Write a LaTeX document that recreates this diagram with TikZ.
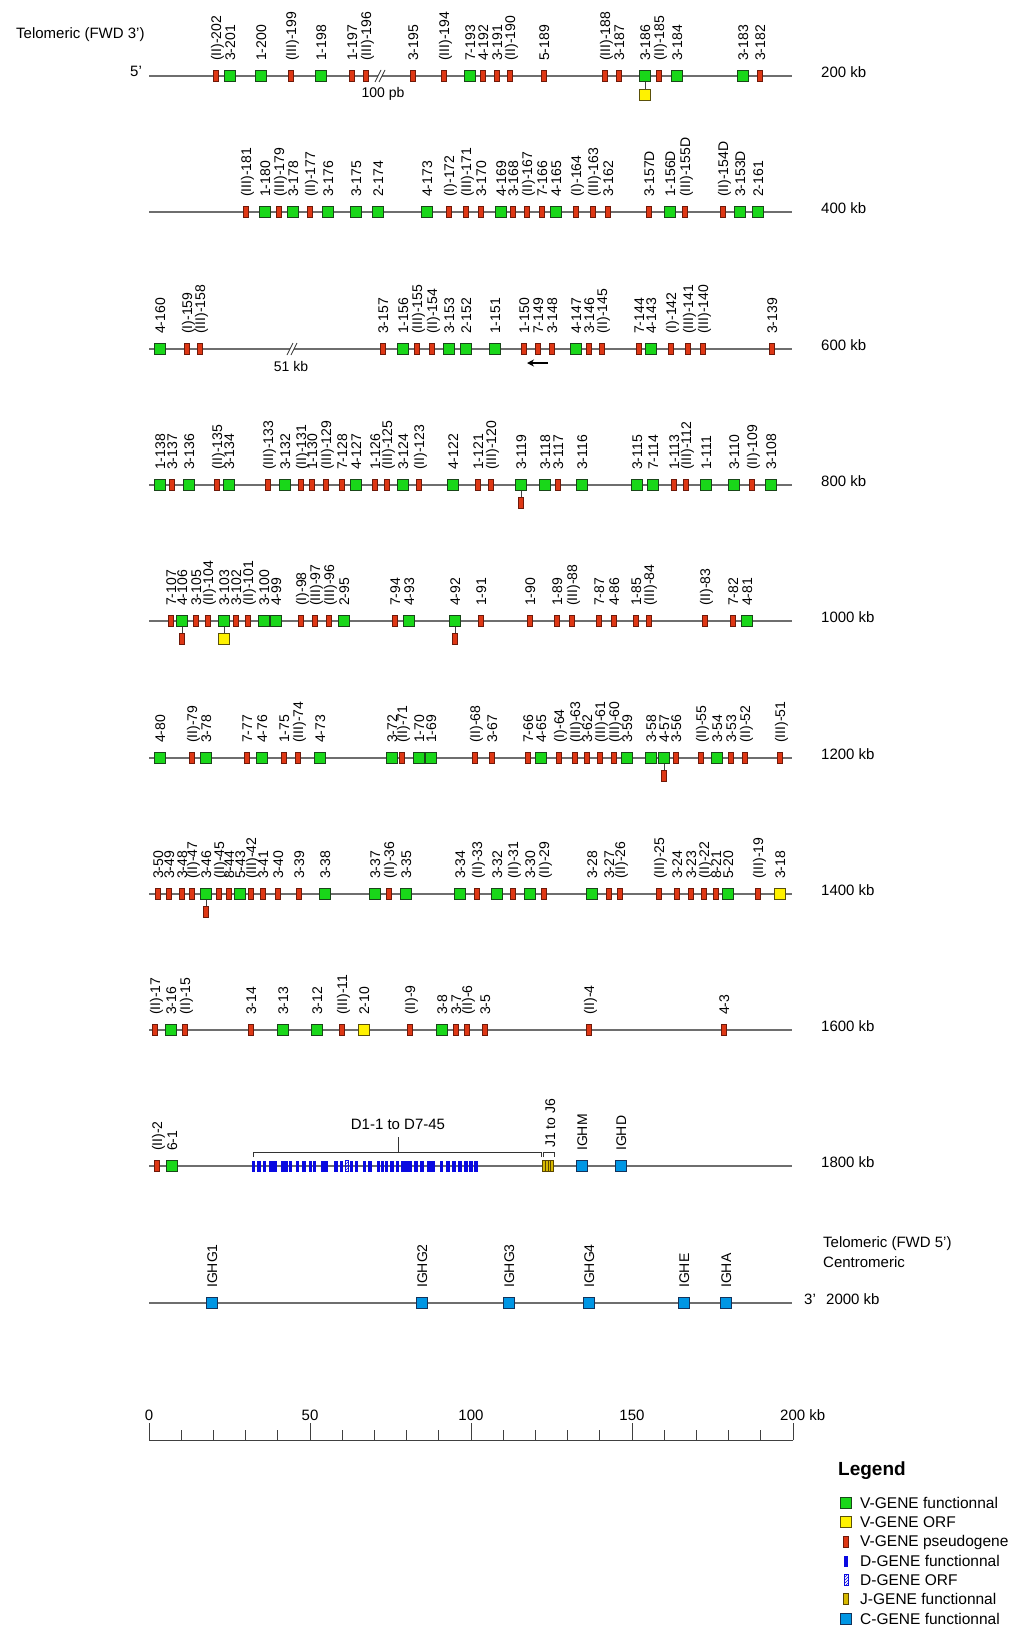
\documentclass[tikz,border=0pt]{standalone}
\usepackage{fontspec}
\setmainfont{Liberation Sans}
\usetikzlibrary{arrows.meta,patterns}
\definecolor{vgreen}{RGB}{25,215,25}
\definecolor{vgreenD}{RGB}{25,70,25}
\definecolor{vred}{RGB}{222,55,20}
\definecolor{vredD}{RGB}{110,25,10}
\definecolor{vyellow}{RGB}{255,242,0}
\definecolor{vyellowD}{RGB}{90,80,10}
\definecolor{dblue}{RGB}{10,10,225}
\definecolor{cblue}{RGB}{0,150,228}
\definecolor{cblueD}{RGB}{20,50,90}
\definecolor{jolive}{RGB}{215,185,0}
\definecolor{jstripeC}{RGB}{90,70,0}
\definecolor{linegray}{RGB}{110,110,110}
\newcommand\generow[3]{%
  \foreach \gx/\glab/\gt [count=\gi] in {#3}{%
    \node[genetype/.expanded=\gt] (r#1g\gi) at (\gx,#2) {};
    \node[glabel] (r#1t\gi) at (\gx,#2-15) {\glab};
  }}
\newcommand\brkmark[2]{%
  \fill[white] (#1-4,#2-3) rectangle (#1,#2+3);
  \draw[brkline] (#1-7,#2+6) -- (#1-1,#2-6);
  \draw[brkline] (#1-3,#2+6) -- (#1+3,#2-6);}
\begin{document}
\begin{tikzpicture}[x=1pt,y=-1pt,
  geneG/.style={draw=vgreenD,fill=vgreen,minimum width=11pt,minimum height=11pt,inner sep=0pt,line width=0.7pt},
  geneR/.style={draw=vredD,fill=vred,minimum width=5.5pt,minimum height=11pt,inner sep=0pt,line width=0.7pt},
  geneY/.style={draw=vyellowD,fill=vyellow,minimum width=11pt,minimum height=11pt,inner sep=0pt,line width=0.7pt},
  geneC/.style={draw=cblueD,fill=cblue,minimum width=11pt,minimum height=11pt,inner sep=0pt,line width=0.7pt},
  genetype/.style={gene#1},
  dgene/.style={fill=dblue,minimum width=3.6pt,minimum height=11pt,inner sep=0pt},
  dorf/.style={draw=dblue,line width=0.6pt,pattern=north east lines,pattern color=dblue,minimum width=3.6pt,minimum height=11pt,inner sep=0pt},
  jgene/.style={draw=jstripeC,fill=jolive,minimum width=5.5pt,minimum height=11pt,inner sep=0pt,line width=0.7pt},
  jstripe/.style={draw=jstripeC,line width=0.9pt},
  glabel/.style={rotate=90,anchor=west,inner sep=0pt,font=\fontsize{14}{14}\selectfont,text height=10pt,text depth=0pt},
  txt/.style={inner sep=0pt,font=\fontsize{15}{15}\selectfont},
  smalltxt/.style={inner sep=0pt,font=\fontsize{14}{14}\selectfont},
  legtxt/.style={inner sep=0pt,anchor=west,font=\fontsize{15.5}{15.5}\selectfont},
  backbone/.style={draw=linegray,line width=1.1pt},
  conn/.style={draw=black!75,line width=0.8pt},
  brkline/.style={draw=black!80,line width=0.8pt},
  bracket/.style={draw=black!80,line width=0.9pt},
  scaleline/.style={draw=black!75,line width=0.9pt}]
\useasboundingbox (0,0) rectangle (1025,1630);
\fill[white] (0,0) rectangle (1025,1630);

% backbones and kb labels
\foreach \r/\yy in {1/76,2/212,3/349,4/485,5/621,6/758,7/894,8/1030,9/1166,10/1303}{
  \coordinate (L\r-s) at (149,\yy);
  \coordinate (L\r-e) at (792,\yy);
  \draw[backbone] (L\r-s) -- (L\r-e);
}
\foreach \r/\yy/\kb in {1/76/200,2/212/400,3/349/600,4/485/800,5/621/1000,6/758/1200,7/894/1400,8/1030/1600,9/1166/1800}{
  \node[txt,anchor=west] (kb\r) at (821,\yy-4) {\kb\ kb};
}
\node[txt,anchor=west] (kb10) at (826,1299) {2000 kb};
\node[txt,anchor=west] (end3) at (804,1299) {3'};
\node[txt,anchor=west] (end5) at (130,71) {5'};
\node[txt,anchor=west] (telo3) at (16,35) {Telomeric (FWD 3')};
\node[txt,anchor=west] (telo5) at (823,1244) {Telomeric (FWD 5')};
\node[txt,anchor=west] (centro) at (823,1262) {Centromeric};

% breaks
\brkmark{382}{76}
\node[smalltxt] (pb100) at (383,94) {100 pb};
\brkmark{294}{349}
\node[smalltxt] (kb51) at (291,366) {51 kb};

% row 1
\generow{1}{76}{216/(II)-202/R,230/3-201/G,261/1-200/G,291/(III)-199/R,321/1-198/G,352/1-197/R,366/(III)-196/R,
413/3-195/R,444/(III)-194/R,470/7-193/G,483/4-192/R,497/3-191/R,510/(II)-190/R,544/5-189/R,605/(III)-188/R,
619/3-187/R,645/3-186/G,659/(II)-185/R,677/3-184/G,743/3-183/G,760/3-182/R}
\node[geneY] (s1) at (645,95) {};
\draw[conn] (r1g17.south) -- (s1.north);

% row 2
\generow{2}{212}{246/(III)-181/R,265/1-180/G,279/(III)-179/R,293/3-178/G,310/(II)-177/R,328/3-176/G,356/3-175/G,
378/2-174/G,427/4-173/G,449/(I)-172/R,466/(III)-171/R,481/3-170/R,501/4-169/G,513/3-168/R,527/(II)-167/R,
542/7-166/R,556/4-165/G,576/(I)-164/R,593/(III)-163/R,608/3-162/R,649/3-157D/R,670/1-156D/G,685/(III)-155D/R,
723/(II)-154D/R,740/3-153D/G,758/2-161/G}

% row 3
\generow{3}{349}{160/4-160/G,187/(I)-159/R,200/(III)-158/R,383/3-157/R,403/1-156/G,417/(III)-155/R,432/(II)-154/R,
449/3-153/G,466/2-152/G,495/1-151/G,524/1-150/R,538/7-149/R,552/3-148/R,576/4-147/G,589/3-146/R,602/(II)-145/R,
639/7-144/R,651/4-143/G,671/(I)-142/R,688/(III)-141/R,703/(III)-140/R,772/3-139/R}
\coordinate (arrS) at (548,363);
\coordinate (arrE) at (527,363);
\draw[-{Stealth[length=7pt,width=7pt]},line width=1.4pt] (arrS) -- (arrE);

% row 4
\generow{4}{485}{160/1-138/G,172/3-137/R,189/3-136/G,217/(II)-135/R,229/3-134/G,268/(III)-133/R,285/3-132/G,
301/(II)-131/R,312/1-130/R,326/(III)-129/R,342/7-128/R,356/4-127/G,375/1-126/R,387/(III)-125/R,403/3-124/G,
419/(II)-123/R,453/4-122/G,478/1-121/R,491/(III)-120/R,521/3-119/G,545/3-118/G,558/3-117/R,582/3-116/G,
637/3-115/G,653/7-114/G,674/1-113/R,686/(III)-112/R,706/1-111/G,734/3-110/G,752/(II)-109/R,771/3-108/G}
\node[geneR] (s4) at (521,503) {};
\draw[conn] (r4g20.south) -- (s4.north);

% row 5
\generow{5}{621}{171/7-107/R,182/4-106/G,196/3-105/R,208/(II)-104/R,224/3-103/G,236/3-102/R,248/(II)-101/R,
264/3-100/G,276/4-99/G,301/(I)-98/R,315/(III)-97/R,329/(III)-96/R,344/2-95/G,395/7-94/R,409/4-93/G,455/4-92/G,
481/1-91/R,530/1-90/R,557/1-89/R,572/(III)-88/R,599/7-87/R,614/4-86/R,636/1-85/R,649/(III)-84/R,705/(II)-83/R,
733/7-82/R,747/4-81/G}
\node[geneR] (s5a) at (182,639) {};
\draw[conn] (r5g2.south) -- (s5a.north);
\node[geneY] (s5b) at (224,639) {};
\draw[conn] (r5g5.south) -- (s5b.north);
\node[geneR] (s5c) at (455,639) {};
\draw[conn] (r5g16.south) -- (s5c.north);

% row 6
\generow{6}{758}{160/4-80/G,192/(II)-79/R,206/3-78/G,247/7-77/R,262/4-76/G,284/1-75/R,298/(III)-74/R,320/4-73/G,
392/3-72/G,402/(II)-71/R,419/1-70/G,431/1-69/G,475/(II)-68/R,492/3-67/R,528/7-66/R,541/4-65/G,559/(I)-64/R,
575/(III)-63/R,587/3-62/R,600/(III)-61/R,614/(III)-60/R,627/3-59/G,651/3-58/G,664/4-57/G,676/3-56/R,
701/(II)-55/R,717/3-54/G,731/3-53/R,745/(II)-52/R,780/(III)-51/R}
\node[geneR] (s6) at (664,776) {};
\draw[conn] (r6g24.south) -- (s6.north);

% row 7
\generow{7}{894}{158/3-50/R,169/3-49/R,182/3-48/R,192/(II)-47/R,206/3-46/G,219/(II)-45/R,229/8-44/R,240/5-43/G,
251/(III)-42/R,263/3-41/R,278/3-40/R,299/3-39/R,325/3-38/G,375/3-37/G,389/(II)-36/R,406/3-35/G,460/3-34/G,
477/(II)-33/R,497/3-32/G,513/(II)-31/R,530/3-30/G,544/(II)-29/R,592/3-28/G,609/3-27/R,620/(II)-26/R,
659/(III)-25/R,677/3-24/R,691/3-23/R,704/(II)-22/R,716/8-21/R,728/5-20/G,758/(III)-19/R,780/3-18/Y}
\node[geneR] (s7) at (206,912) {};
\draw[conn] (r7g5.south) -- (s7.north);

% row 8
\generow{8}{1030}{155/(II)-17/R,171/3-16/G,185/(II)-15/R,251/3-14/R,283/3-13/G,317/3-12/G,342/(III)-11/R,
364/2-10/Y,410/(II)-9/R,442/3-8/G,456/3-7/R,467/(II)-6/R,485/3-5/R,589/(II)-4/R,724/4-3/R}

% row 9
\generow{9}{1166}{157/(II)-2/R,172/6-1/G,582/IGHM/C,621/IGHD/C}
\foreach \dx [count=\di] in {253.6,258.8,264.6,271.2,274.7,283,286.6,290.5,297.6,303.7,310.3,314.3,322.7,326.6,
335.9,341.6,351.3,356.5,364.5,370.2,378.6,382.5,386.5,391.8,397.5,403.2,406.7,410.2,416,422,429,433,441.5,448,
453.8,460,465.7,471,475.8}{
  \node[dgene] (d\di) at (\dx,1166) {};
}
\node[dorf] (dorf1) at (346.9,1166) {};
\node[jgene,minimum width=11pt] (jbox) at (548,1166) {};
\foreach \sx in {-2.6,0,2.6}{
  \draw[jstripe] ([xshift=\sx pt]jbox.north) -- ([xshift=\sx pt]jbox.south);
}
\coordinate (dbA) at (253.5,1157);
\coordinate (dbB) at (253.5,1152);
\coordinate (dbC) at (541,1152);
\coordinate (dbD) at (541,1157);
\draw[bracket] (dbA) -- (dbB) -- (dbC) -- (dbD);
\coordinate (dbM) at (398,1152);
\coordinate (dbT) at (398,1137);
\draw[bracket] (dbM) -- (dbT);
\node[txt] (dlab) at (398,1124) {D1-1 to D7-45};
\coordinate (jbA) at (543,1157);
\coordinate (jbB) at (543,1152);
\coordinate (jbC) at (554,1152);
\coordinate (jbD) at (554,1157);
\draw[bracket] (jbA) -- (jbB) -- (jbC) -- (jbD);
\node[glabel] (jlab) at (550,1148) {J1 to J6};

% row 10
\generow{10}{1303}{212/IGHG1/C,422/IGHG2/C,509/IGHG3/C,589/IGHG4/C,684/IGHE/C,726/IGHA/C}

% scale bar
\coordinate (sc0) at (149,1440);
\coordinate (sc200) at (793,1440);
\draw[scaleline] (sc0) -- (sc200);
\foreach \k in {0,...,20}{
  \draw[scaleline] (149+32.2*\k,1440) -- ++(0,-10);
}
\foreach \k in {0,5,10,15,20}{
  \draw[scaleline] (149+32.2*\k,1440) -- ++(0,-17);
}
\node[txt] (sl0) at (149,1415) {0};
\node[txt] (sl50) at (310,1415) {50};
\node[txt] (sl100) at (471,1415) {100};
\node[txt] (sl150) at (632,1415) {150};
\node[txt,anchor=west] (sl200) at (780,1415) {200 kb};

% legend
\node[inner sep=0pt,anchor=west,font=\bfseries\fontsize{19}{19}\selectfont] (legtitle) at (838,1471) {Legend};
\node[geneG] (lg1) at (846,1503) {};
\node[legtxt] (lt1) at (860,1503) {V-GENE functionnal};
\node[geneY] (lg2) at (846,1522) {};
\node[legtxt] (lt2) at (860,1522) {V-GENE ORF};
\node[geneR] (lg3) at (846,1542) {};
\node[legtxt] (lt3) at (860,1542) {V-GENE pseudogene};
\node[dgene] (lg4) at (846,1561) {};
\node[legtxt] (lt4) at (860,1561) {D-GENE functionnal};
\node[dorf] (lg5) at (846,1580) {};
\node[legtxt] (lt5) at (860,1580) {D-GENE ORF};
\node[jgene] (lg6) at (846,1599) {};
\node[legtxt] (lt6) at (860,1599) {J-GENE functionnal};
\node[geneC] (lg7) at (846,1619) {};
\node[legtxt] (lt7) at (860,1619) {C-GENE functionnal};
\end{tikzpicture}
\end{document}
